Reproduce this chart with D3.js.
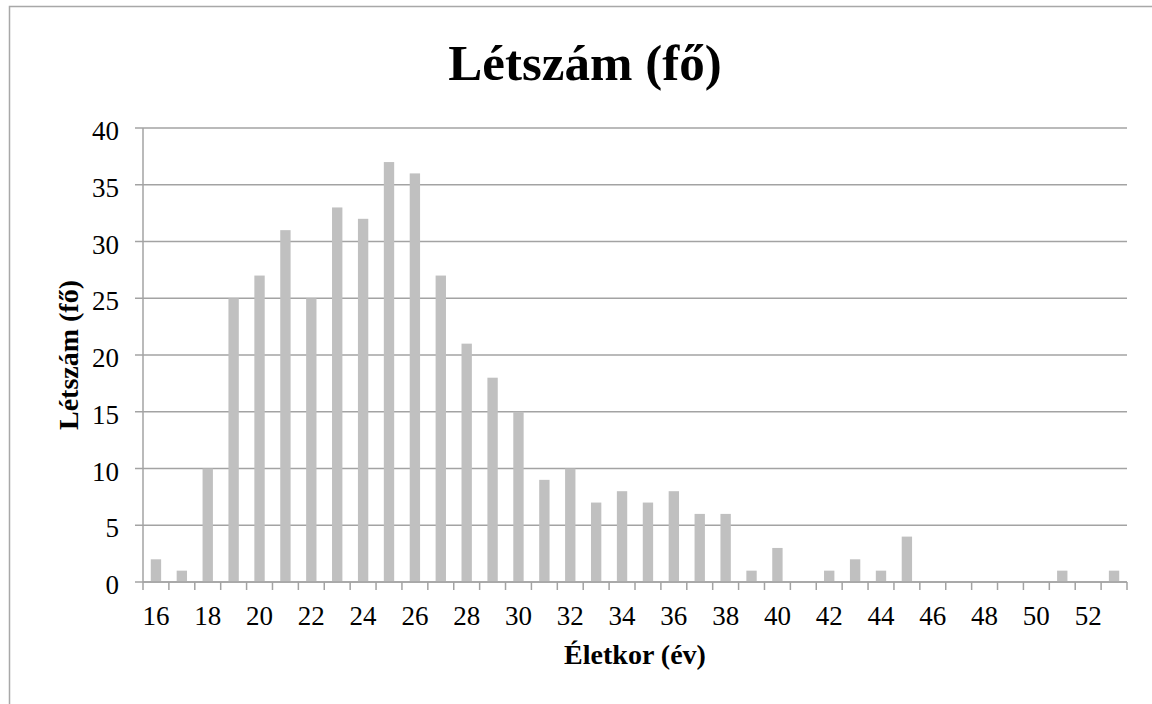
<!DOCTYPE html>
<html lang="hu">
<head>
  <meta charset="UTF-8" />
  <title>Létszám (fő)</title>
  <script src="https://d3js.org/d3.v7.min.js"></script>
  <style>
    body { margin: 0; background: #fff; }
    text { font-family: "Liberation Serif", "DejaVu Serif", serif; fill: #000; }
  </style>
</head>
<body>
  <svg width="1152" height="704"></svg>
  <script>
    // életkorok (év) és létszámok (fő)
    const ages = d3.range(16, 54);
    const counts = [2, 1, 10, 25, 27, 31, 25, 33, 32, 37, 36, 27, 21, 18, 15, 9, 10, 7, 8, 7, 8, 6, 6, 1, 3, 0, 1, 2, 1, 4, 0, 0, 0, 0, 0, 1, 0, 1];
    const yTicks = [0, 5, 10, 15, 20, 25, 30, 35, 40];
    const xLabels = ages.filter(a => a % 2 === 0);

    const svg = d3.select("svg");
    const plotL = 143, plotR = 1127, plotT = 128, plotB = 582;
    const gridColor = "#a3a3a3";

    // külső keret
    svg.append("rect")
      .attr("x", 9.5).attr("y", 6.5)
      .attr("width", 1160).attr("height", 720)
      .attr("fill", "none").attr("stroke", "#a8a8a8").attr("stroke-width", 1.5);

    const x = d3.scaleBand().domain(ages).range([plotL, plotR]);
    const y = d3.scaleLinear().domain([0, 40]).range([plotB, plotT]);

    // rácsvonalak
    svg.append("g")
      .selectAll("line")
      .data(yTicks)
      .join("line")
      .attr("x1", plotL - 8).attr("x2", plotR)
      .attr("y1", d => y(d)).attr("y2", d => y(d))
      .attr("stroke", gridColor).attr("stroke-width", 1.5);

    // y tengely
    svg.append("line")
      .attr("x1", plotL).attr("x2", plotL)
      .attr("y1", plotT).attr("y2", plotB)
      .attr("stroke", gridColor).attr("stroke-width", 1.5);

    svg.append("g")
      .selectAll("text")
      .data(yTicks)
      .join("text")
      .attr("x", 119)
      .attr("y", d => y(d) + 12)
      .attr("text-anchor", "end")
      .attr("font-size", 27)
      .text(d => d);

    // oszlopok
    const barW = x.bandwidth() * 0.4;
    svg.append("g")
      .selectAll("rect")
      .data(ages.map((a, i) => ({ age: a, n: counts[i] })))
      .join("rect")
      .attr("x", d => x(d.age) + (x.bandwidth() - barW) / 2)
      .attr("y", d => y(d.n))
      .attr("width", barW)
      .attr("height", d => y(0) - y(d.n))
      .attr("fill", "#c0c0c0");

    // x tengely
    svg.append("line")
      .attr("x1", plotL).attr("x2", plotR)
      .attr("y1", plotB).attr("y2", plotB)
      .attr("stroke", gridColor).attr("stroke-width", 1.5);

    svg.append("g")
      .selectAll("line")
      .data(ages.concat([null]))
      .join("line")
      .attr("x1", d => d === null ? plotR : x(d))
      .attr("x2", d => d === null ? plotR : x(d))
      .attr("y1", plotB).attr("y2", plotB + 8)
      .attr("stroke", gridColor).attr("stroke-width", 1.5);

    svg.append("g")
      .selectAll("text")
      .data(xLabels)
      .join("text")
      .attr("x", d => x(d) + x.bandwidth() / 2)
      .attr("y", 625)
      .attr("text-anchor", "middle")
      .attr("font-size", 27)
      .text(d => d);

    // címek
    svg.append("text")
      .attr("x", 585).attr("y", 80)
      .attr("text-anchor", "middle")
      .attr("font-size", 51).attr("font-weight", "bold")
      .text("Létszám (fő)");

    svg.append("text")
      .attr("x", (plotL + plotR) / 2).attr("y", 664)
      .attr("text-anchor", "middle")
      .attr("font-size", 28).attr("font-weight", "bold")
      .text("Életkor (év)");

    svg.append("text")
      .attr("transform", `translate(78,${(plotT + plotB) / 2}) rotate(-90)`)
      .attr("text-anchor", "middle")
      .attr("font-size", 28).attr("font-weight", "bold")
      .text("Létszám (fő)");
  </script>
</body>
</html>
